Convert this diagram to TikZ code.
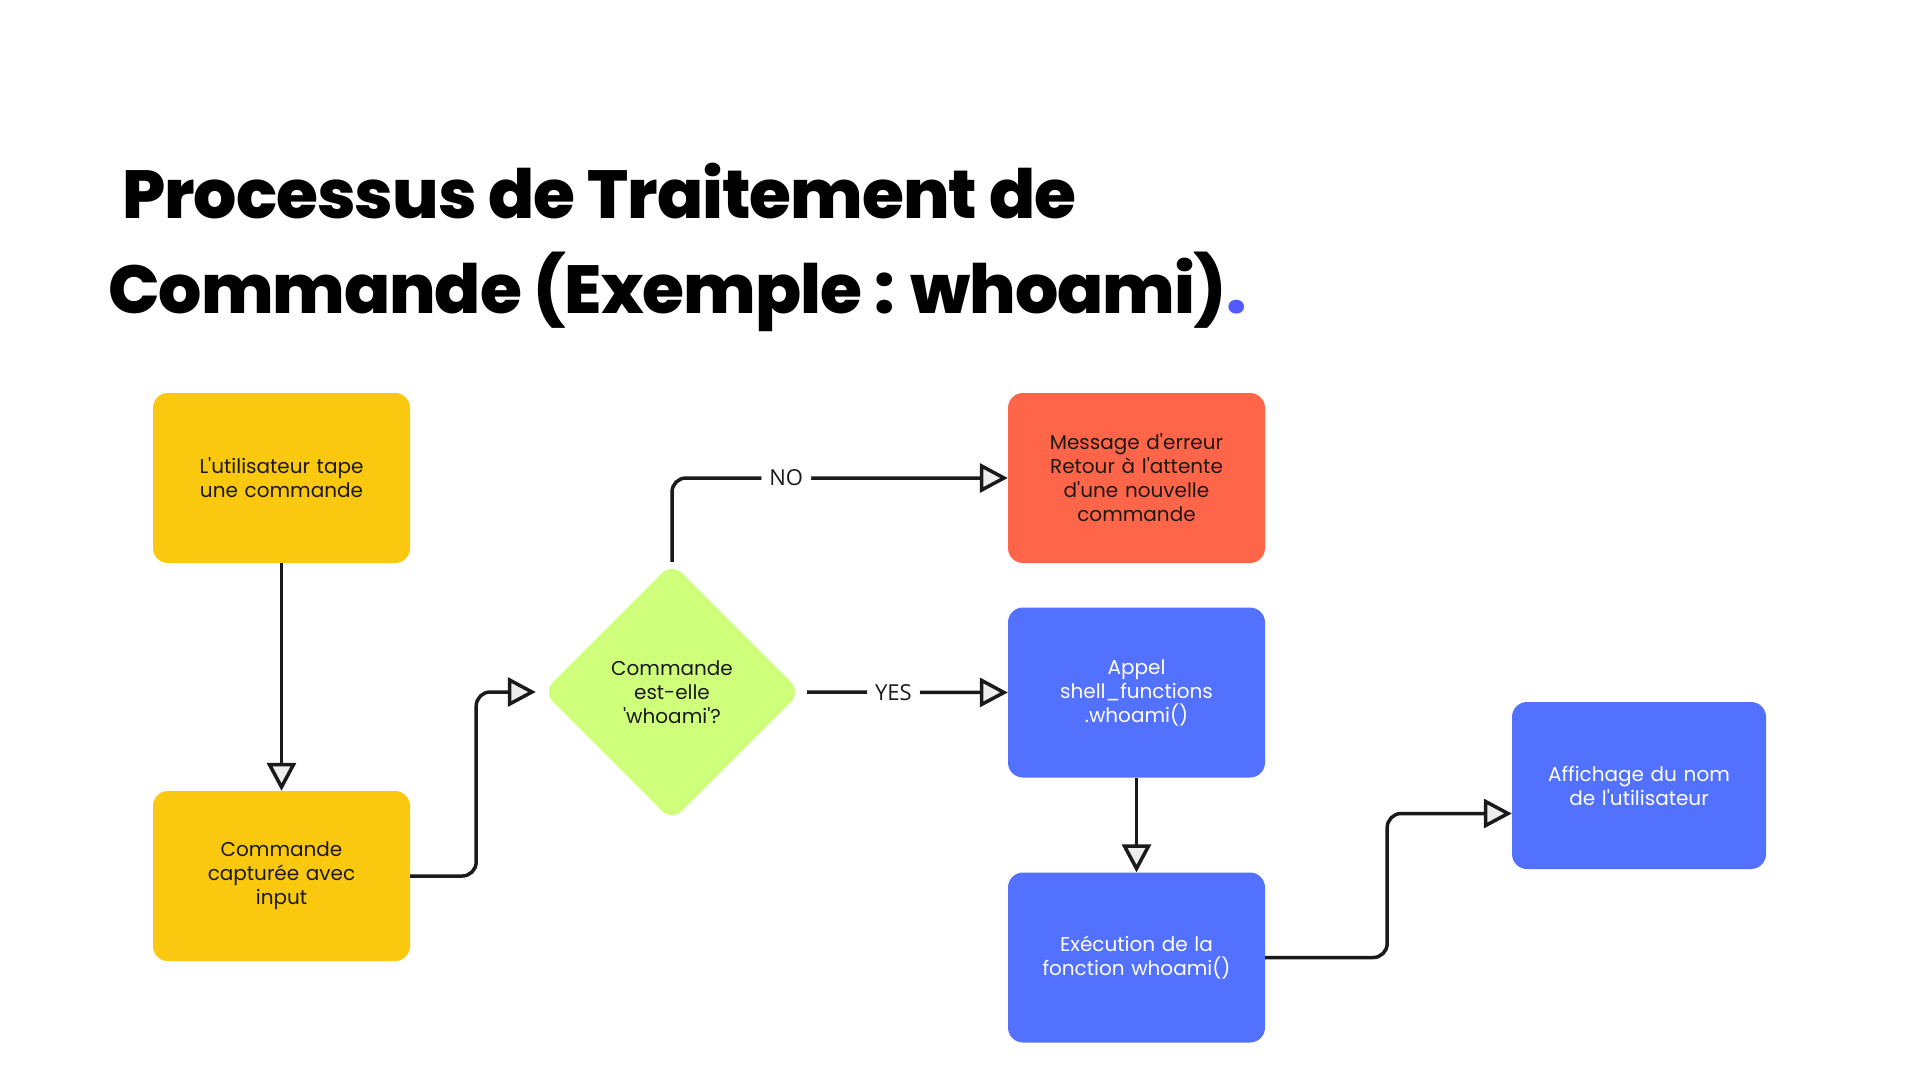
\documentclass[tikz,border=0pt]{standalone}
\usepackage{fontspec}
\setmainfont{Poppins}
\newfontfamily\labelfont{Open Sans}
\IfFontExistsTF{Poppins ExtraBold}
  {\newfontfamily\titlefont{Poppins ExtraBold}[LetterSpace=-1.5]\def\ttlweight{\relax}}
  {\newfontfamily\titlefont{Poppins}[LetterSpace=-1.5]\def\ttlweight{\bfseries}}
\usetikzlibrary{arrows.meta,shapes.geometric}
\definecolor{yel}{HTML}{F9C80F}
\definecolor{redbox}{HTML}{FF6549}
\definecolor{blu}{HTML}{5271FF}
\definecolor{grn}{HTML}{CFFF7A}
\definecolor{ttldot}{HTML}{4F5BFF}
\definecolor{ink}{HTML}{1A1A1A}
\newcommand\ap{\textquotesingle}
\tikzset{
  box/.style={rounded corners=15pt, minimum width=257pt, minimum height=170pt,
    inner sep=0pt, align=center, text width=230pt,
    font=\fontsize{20}{24}\selectfont, text=ink},
  bluebox/.style={box, fill=blu, text=white},
  conn/.style={line width=3.5pt, draw=ink, rounded corners=14pt,
    -{Triangle[fill=black!7, length=28pt, width=29pt, line width=3.5pt]}},
  lbl/.style={fill=white, inner xsep=8pt, inner ysep=4pt, font=\labelfont\fontsize{22}{24}\selectfont, text=ink},
  ttl/.style={anchor=base west, inner sep=0pt, font=\titlefont\ttlweight\fontsize{68}{80}\selectfont, text=black}
}
\begin{document}
\begin{tikzpicture}[x=1pt,y=-1pt]
\useasboundingbox[fill=white] (0,0) rectangle (1920,1080);
\node[ttl] (t1) at (122,218) {Processus de Traitement de};
\node[ttl] (t2) at (108,313) {Commande (Exemple : whoami)\textcolor{ttldot}{.}};

\node[box, fill=yel] (b1) at (281.5,478) {L\ap utilisateur tape\\une commande};
\node[box, fill=yel] (b2) at (281.5,876) {Commande\\capturée avec\\input};
\node[diamond, fill=grn, rounded corners=14pt, minimum width=258pt, minimum height=258pt,
  inner sep=0pt, align=center, font=\fontsize{20}{24}\selectfont, text=ink] (d) at (672,692)
  {Commande\\est-elle\\\ap whoami\ap?};
\node[box, fill=redbox] (r) at (1136.5,478) {Message d\ap erreur\\Retour à l\ap attente\\d\ap une nouvelle\\commande};
\node[bluebox] (c1) at (1136.5,692.5) {Appel\\shell\_functions\\.whoami()};
\node[bluebox] (c2) at (1136.5,957.5) {Exécution de la\\fonction whoami()};
\node[bluebox, minimum width=254pt, minimum height=167pt] (c3) at (1639,785.5) {Affichage du nom\\de l\ap utilisateur};

\draw[conn] (b1) -- (b2);
\draw[conn] (b2.east) -- ++(66,0) |- ([xshift=-7pt]d.west);
\draw[conn] ([yshift=1pt]d.north) |- node[lbl, pos=0.67] {NO} (r.west);
\draw[conn] ([xshift=6pt]d.east) -- node[lbl, pos=0.43] {YES} (c1.west);
\draw[conn] (c1) -- (c2);
\draw[conn] (c2.east) -- ++(122,0) |- ([yshift=-28pt]c3.west);
\end{tikzpicture}
\end{document}
